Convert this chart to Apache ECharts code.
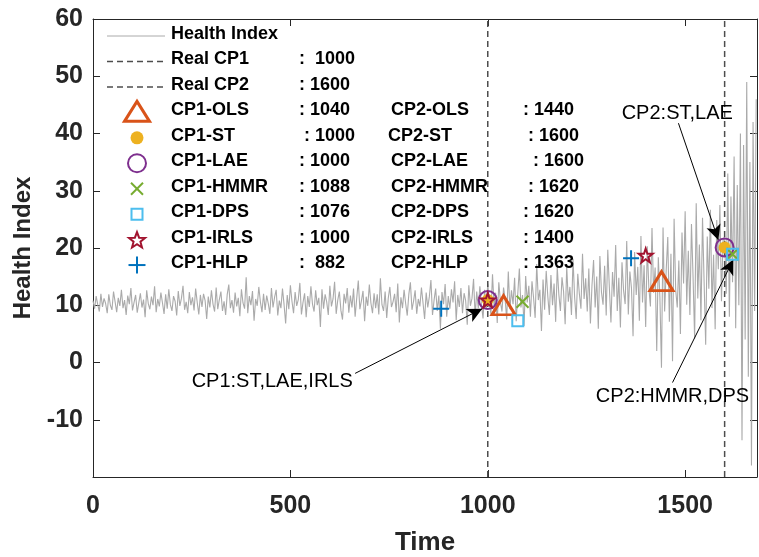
<!DOCTYPE html>
<html><head><meta charset="utf-8">
<script src="https://cdn.jsdelivr.net/npm/echarts@6/dist/echarts.min.js"></script>
<style>html,body{margin:0;padding:0;background:#fff}#c{width:759px;height:557px}</style>
</head><body><div id="c"></div>
<script>
// ---- data ----
const STEP = 4; // sampling interval of health index (time units)
const healthIndex = [
10.8,9.4,11.6,10.1,8.9,12.0,9.7,11.2,10.3,8.6,
11.9,10.0,9.2,12.4,10.6,8.8,11.3,9.9,12.7,9.5,
10.9,8.3,11.7,10.2,13.0,9.1,10.5,11.8,8.7,10.4,
12.1,9.6,11.0,7.9,12.6,10.3,9.3,11.5,10.0,13.3,
8.8,11.1,9.8,12.2,10.4,8.5,11.9,9.4,12.8,10.1,
9.0,11.6,10.7,8.2,12.5,9.9,11.2,13.4,9.2,10.6,
8.6,12.3,10.0,11.4,9.1,12.9,10.5,8.4,11.8,9.7,
12.0,10.8,7.6,11.5,9.6,12.6,10.2,8.9,13.1,9.3,
11.0,12.4,9.0,10.7,8.3,11.9,13.6,9.5,10.9,8.7,
12.2,9.8,11.3,8.1,12.8,10.4,9.4,14.9,8.6,11.6,
10.0,12.5,7.3,11.1,9.9,13.2,10.6,8.8,12.0,9.2,
11.7,10.3,8.5,13.0,9.6,11.4,12.7,8.2,10.8,9.5,
12.9,10.1,6.8,11.8,9.3,13.5,10.7,8.6,12.3,9.9,
11.0,13.9,8.4,10.5,12.1,7.9,11.6,9.7,13.3,10.2,
8.9,12.6,10.0,11.3,6.2,12.8,9.4,11.9,10.6,8.3,
13.4,9.8,11.1,14.1,8.5,10.9,12.4,9.1,7.5,12.0,
10.3,13.0,8.7,11.7,9.6,12.9,8.0,11.2,14.3,9.3,
10.8,12.5,7.2,11.5,9.9,13.6,10.4,8.6,12.1,9.5,
11.9,8.4,14.7,10.1,9.0,12.4,7.8,11.3,13.2,9.7,
10.6,12.0,8.8,13.8,7.0,11.4,9.5,12.7,10.3,8.2,
11.9,14.0,9.2,10.7,12.6,8.5,11.1,9.8,13.1,10.4,
7.6,12.2,9.6,11.5,14.4,8.3,10.9,12.9,9.0,11.7,
5.9,12.3,10.2,13.7,8.0,11.6,9.4,12.8,10.5,14.2,
7.4,11.8,9.7,13.0,8.6,12.1,10.8,6.6,13.5,9.9,
11.2,14.6,8.1,12.4,9.5,13.3,10.1,7.7,12.7,9.2,
13.8,10.4,8.4,15.4,9.8,12.2,6.9,14.0,10.6,8.9,
13.1,11.0,7.5,15.9,9.3,12.6,10.2,14.8,7.2,12.0,
16.4,9.6,11.8,6.4,15.1,10.5,13.4,8.0,14.2,11.3,
7.8,17.2,10.9,12.7,5.5,14.5,9.2,16.0,11.6,8.3,
15.3,10.0,13.8,7.1,16.7,11.9,9.0,14.9,12.4,6.7,
16.8,10.6,13.2,8.3,18.1,11.4,7.6,15.5,12.0,9.4,
19.0,11.1,14.7,8.9,16.4,6.8,13.5,17.9,9.6,15.0,
5.9,18.6,12.3,10.1,16.9,8.2,19.7,13.1,7.0,15.8,
11.5,20.5,9.0,14.8,6.1,17.5,12.6,10.2,21.2,8.4,
15.9,13.0,4.6,19.3,11.8,16.7,7.3,22.1,10.5,17.0,
6.2,20.3,13.1,9.8,23.5,12.2,16.6,2.0,18.4,11.4,
-0.9,23.6,8.9,16.2,21.9,7.1,19.0,0.2,25.1,12.7,
9.6,17.8,5.0,22.7,13.8,26.4,10.1,19.5,8.3,24.2,
15.0,4.2,27.8,11.2,20.6,7.4,25.3,14.1,3.1,22.0,
12.9,26.7,9.5,18.8,5.8,24.9,16.3,27.5,10.7,21.3,
22.0,12.0,33.0,8.0,29.0,14.0,36.0,6.0,31.0,10.0,
40.0,-13.6,38.0,4.0,49.0,-2.5,35.0,-18.0,42.0,9.0,
46.0
];
const realCP = [1000, 1600];
const methods = ['OLS','ST','LAE','HMMR','DPS','IRLS','HLP'];
const cp1Time = [1040, 1000, 1000, 1088, 1076, 1000, 882];
const cp1Value = [10.0, 10.9, 10.9, 10.6, 7.3, 10.9, 9.4];
const cp2Time = [1440, 1600, 1600, 1620, 1620, 1400, 1363];
const cp2Value = [14.2, 20.1, 20.1, 18.9, 18.9, 18.7, 18.2];
const cp1Text = [': 1040', ' : 1000', ': 1000', ': 1088', ': 1076', ': 1000', ':  882'];
const cp2Text = [': 1440', ' : 1600', '  : 1600', ' : 1620', ': 1620', ': 1400', ': 1363'];
const xTicks = [0, 500, 1000, 1500];
const yTicks = [-10, 0, 10, 20, 30, 40, 50, 60];
const annotations = [
  {text: 'CP1:ST,LAE,IRLS', at: [454, -3.3], from: [664, -1.9], to: [986, 9.4]},
  {text: 'CP2:ST,LAE', at: [1480, 43.5], from: [1483, 41.8], to: [1584, 21.4]},
  {text: 'CP2:HMMR,DPS', at: [1468, -5.9], from: [1468, -3.5], to: [1622, 18.0]}
];

// ---- styles ----
const FONT = "'Liberation Sans', Arial, Helvetica, sans-serif";
const AX = '#262626';
const styles = {
  OLS:  {symbol: 'triangle', size: [23, 19], color: 'transparent', border: '#D95319', bw: 3},
  ST:   {symbol: 'circle', size: 12, color: '#EDB120', border: '#EDB120', bw: 0},
  LAE:  {symbol: 'circle', size: 18, color: 'transparent', border: '#7E2F8E', bw: 2},
  HMMR: {symbol: 'path://M0,0L10,10M10,0L0,10', size: 12, color: 'transparent', border: '#77AC30', bw: 2},
  DPS:  {symbol: 'rect', size: 11, color: 'transparent', border: '#4DBEEE', bw: 2},
  IRLS: {symbol: 'path://M50,0L61.8,35.1L98.9,35.5L69.1,57.6L79.4,93.1L50,71.8L20.6,93.1L30.9,57.6L1.1,35.5L38.2,35.1Z', size: 14, color: 'transparent', border: '#A2142F', bw: 2},
  HLP:  {symbol: 'path://M5,0L5,10M0,5L10,5', size: 16, color: 'transparent', border: '#0072BD', bw: 2}
};

const series = [];
series.push({
  name: 'Health Index', type: 'line', showSymbol: false, symbol: 'none', animation: false,
  data: healthIndex.map((v, i) => [i * STEP, v]),
  lineStyle: {color: '#aaaaaa', width: 1.1}, z: 1
});
realCP.forEach((cp, i) => series.push({
  name: 'Real CP' + (i + 1), type: 'line', symbol: 'none', animation: false,
  data: [[cp, -20], [cp, 60]],
  lineStyle: {color: '#4d4d4d', width: 1.5, type: [6, 4]}, z: 2
}));
const order = ['OLS', 'LAE', 'ST', 'HMMR', 'DPS', 'IRLS', 'HLP'];
order.forEach((m, k) => {
  const i = methods.indexOf(m), s = styles[m];
  series.push({
    name: m, type: 'scatter', animation: false, symbol: s.symbol, symbolSize: s.size,
    data: [[cp1Time[i], cp1Value[i]], [cp2Time[i], cp2Value[i]]],
    itemStyle: {color: s.color, borderColor: s.border, borderWidth: s.bw, opacity: 1},
    z: 5 + k
  });
});
// annotation arrows
series.push({
  type: 'line', animation: false, data: [], z: 20,
  markLine: {
    silent: true, animation: false, symbol: ['none', 'arrow'], symbolSize: [11, 15],
    lineStyle: {color: '#000', width: 1, type: 'solid'},
    label: {show: false},
    data: annotations.map(a => [{coord: a.from}, {coord: a.to}])
  }
});

const axisCommon = () => ({
  axisLine: {show: true, onZero: false, lineStyle: {color: AX, width: 1}},
  axisTick: {show: true, inside: true, length: 7, lineStyle: {color: AX}},
  splitLine: {show: false}
});
const chart = echarts.init(document.getElementById('c'), null, {renderer: 'canvas'});
chart.setOption({
  animation: false,
  backgroundColor: '#fff',
  grid: {left: 93, right: 2, top: 19, bottom: 80, show: false, containLabel: false, outerBoundsMode: 'none'},
  xAxis: [
    Object.assign({type: 'value', min: 0, max: 1682, interval: 500, name: 'Time', nameLocation: 'middle', nameGap: 53,
      nameTextStyle: {fontSize: 26, fontWeight: 'bold', color: AX, fontFamily: FONT},
      axisLabel: {fontSize: 25, fontWeight: 'bold', color: AX, fontFamily: FONT, margin: 17,
        formatter: v => xTicks.includes(v) ? String(v) : ''}
    }, axisCommon()),
    Object.assign({type: 'value', position: 'top', min: 0, max: 1682, interval: 500, axisLabel: {show: false}}, axisCommon())
  ],
  yAxis: [
    Object.assign({type: 'value', min: -20, max: 60, interval: 10, name: 'Health Index', nameLocation: 'middle', nameGap: 58,
      nameTextStyle: {fontSize: 24, fontWeight: 'bold', color: AX, fontFamily: FONT},
      axisLabel: {fontSize: 25, fontWeight: 'bold', color: AX, fontFamily: FONT, margin: 10,
        formatter: v => yTicks.includes(v) ? String(v) : ''}
    }, axisCommon()),
    Object.assign({type: 'value', position: 'right', min: -20, max: 60, interval: 10, axisLabel: {show: false}}, axisCommon())
  ],
  series: series
});

// ---- legend and annotation texts drawn as graphics ----
const graphic = [];
const LX = 107, LX2 = 165, IX = 137, NX = 171, VX = 299, N2X = 391, V2X = 523, Y0 = 36, DY = 25.45;
const tStyle = (txt, x, y) => ({type: 'text', left: x, top: y - 11, z: 100,
  style: {text: txt, fill: '#000', font: 'bold 18px ' + FONT, textVerticalAlign: 'top'}});
graphic.push({type: 'line', z: 100, shape: {x1: LX, y1: Y0, x2: LX2, y2: Y0}, style: {stroke: '#aaaaaa', lineWidth: 1}});
graphic.push(tStyle('Health Index', NX, Y0));
['Real CP1', 'Real CP2'].forEach((n, i) => {
  const y = Y0 + DY * (i + 1);
  graphic.push({type: 'line', z: 100, shape: {x1: LX, y1: y, x2: LX2, y2: y}, style: {stroke: '#4d4d4d', lineWidth: 1.5, lineDash: [6, 4]}});
  graphic.push(tStyle(n, NX, y));
  graphic.push(tStyle(i === 0 ? ':  ' + realCP[i] : ': ' + realCP[i], VX, y));
});
methods.forEach((m, i) => {
  const y = Y0 + DY * (i + 3), s = styles[m];
  let icon;
  if (m === 'OLS') icon = {type: 'polygon', shape: {points: [[IX, y - 11], [IX + 12.5, y + 9], [IX - 12.5, y + 9]]}, style: {fill: 'none', stroke: s.border, lineWidth: 3}};
  else if (m === 'ST') icon = {type: 'circle', shape: {cx: IX, cy: y, r: 6.5}, style: {fill: s.color}};
  else if (m === 'LAE') icon = {type: 'circle', shape: {cx: IX, cy: y, r: 9}, style: {fill: 'none', stroke: s.border, lineWidth: 2}};
  else if (m === 'HMMR') icon = {type: 'polyline', shape: {points: [[IX - 6, y - 6], [IX + 6, y + 6]]}, style: {stroke: s.border, lineWidth: 2}};
  else if (m === 'DPS') icon = {type: 'rect', shape: {x: IX - 5.5, y: y - 5.5, width: 11, height: 11}, style: {fill: 'none', stroke: s.border, lineWidth: 2}};
  else if (m === 'IRLS') {
    const pts = [];
    for (let k = 0; k < 10; k++) { const r = k % 2 ? 3.6 : 8.5, a = -Math.PI / 2 + k * Math.PI / 5; pts.push([IX + r * Math.cos(a), y + 1 + r * Math.sin(a)]); }
    icon = {type: 'polygon', shape: {points: pts}, style: {fill: 'none', stroke: s.border, lineWidth: 2}};
  }
  else icon = {type: 'polyline', shape: {points: [[IX - 8.5, y], [IX + 8.5, y]]}, style: {stroke: s.border, lineWidth: 2}};
  icon.z = 100; graphic.push(icon);
  if (m === 'HMMR') graphic.push({type: 'polyline', z: 100, shape: {points: [[IX + 6, y - 6], [IX - 6, y + 6]]}, style: {stroke: s.border, lineWidth: 2}});
  if (m === 'HLP') graphic.push({type: 'polyline', z: 100, shape: {points: [[IX, y - 8.5], [IX, y + 8.5]]}, style: {stroke: s.border, lineWidth: 2}});
  graphic.push(tStyle('CP1-' + m, NX, y));
  graphic.push(tStyle(cp1Text[i], VX, y));
  graphic.push(tStyle('CP2-' + m, m === 'ST' ? N2X - 3 : N2X, y));
  graphic.push(tStyle(cp2Text[i], V2X, y));
});
annotations.forEach(a => {
  const p = chart.convertToPixel({xAxisIndex: 0, yAxisIndex: 0}, a.at);
  graphic.push({type: 'text', x: p[0], y: p[1], z: 110,
    style: {text: a.text, fill: '#000', font: '20px ' + FONT, textAlign: 'center', textVerticalAlign: 'middle'}});
});
chart.setOption({graphic: graphic});
</script>
</body></html>
